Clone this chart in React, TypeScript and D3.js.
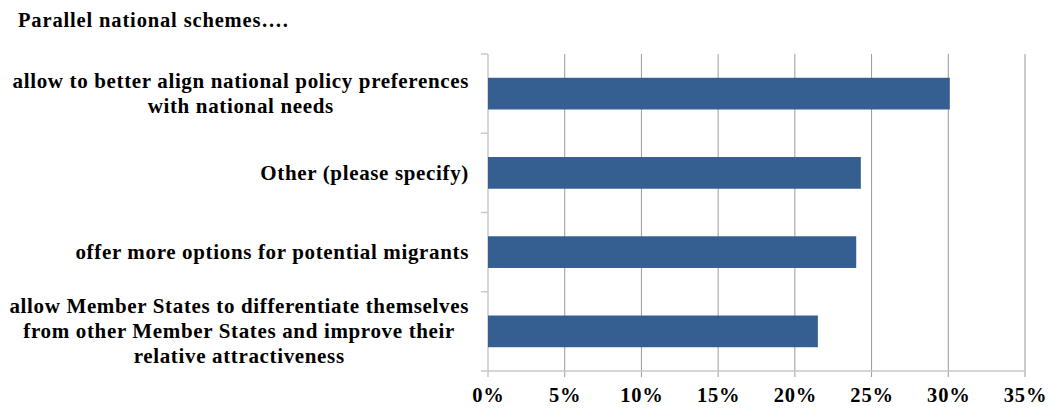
import React, { useEffect, useRef } from "react";
import * as d3 from "d3";

const title = "Parallel national schemes….";
const categories = [
  ["allow to better align national policy preferences", "with national needs"],
  ["Other (please specify)"],
  ["offer more options for potential migrants"],
  [
    "allow Member States to differentiate themselves",
    "from other Member States and improve their",
    "relative attractiveness",
  ],
];
const values = [0.301, 0.243, 0.24, 0.215];
const ticks = [0, 0.05, 0.1, 0.15, 0.2, 0.25, 0.3, 0.35];

const W = 1050;
const H = 409;
const m = { left: 488, right: 25, top: 54, bottom: 38 };
const font = "'Liberation Serif', 'Times New Roman', serif";

const App = () => {
  const ref = useRef<SVGSVGElement>(null);

  useEffect(() => {
    const svg = d3.select(ref.current);
    svg.selectAll("*").remove();

    const x = d3.scaleLinear().domain([0, 0.35]).range([m.left, W - m.right]);
    const y = d3
      .scaleBand()
      .domain(categories.map((_, i) => String(i)))
      .range([m.top, H - m.bottom])
      .paddingInner(0.6)
      .paddingOuter(0.3);
    const band = (H - m.bottom - m.top) / categories.length;

    svg
      .append("text")
      .attr("x", 18)
      .attr("y", 27)
      .attr("font-family", font)
      .attr("font-weight", "bold")
      .attr("font-size", 20.5)
      .attr("letter-spacing", 0.85)
      .text(title);

    // gridlines
    svg
      .append("g")
      .selectAll("line")
      .data(ticks.slice(1))
      .join("line")
      .attr("x1", (d) => x(d))
      .attr("x2", (d) => x(d))
      .attr("y1", m.top)
      .attr("y2", H - m.bottom + 6)
      .attr("stroke", "#9a9a9a")
      .attr("stroke-width", 1);

    // axis lines + ticks
    svg
      .append("line")
      .attr("x1", m.left)
      .attr("x2", x(0.35))
      .attr("y1", H - m.bottom)
      .attr("y2", H - m.bottom)
      .attr("stroke", "#c8c8c8")
      .attr("stroke-width", 1.5);
    svg
      .append("line")
      .attr("x1", m.left)
      .attr("x2", m.left)
      .attr("y1", m.top)
      .attr("y2", H - m.bottom + 6)
      .attr("stroke", "#c8c8c8")
      .attr("stroke-width", 1.5);
    svg
      .append("g")
      .selectAll("line")
      .data(d3.range(categories.length + 1))
      .join("line")
      .attr("x1", m.left - 7)
      .attr("x2", m.left)
      .attr("y1", (i) => m.top + i * band)
      .attr("y2", (i) => m.top + i * band)
      .attr("stroke", "#c8c8c8")
      .attr("stroke-width", 1.5);

    svg
      .append("g")
      .selectAll("text")
      .data(ticks)
      .join("text")
      .attr("x", (d) => x(d) + 0.5)
      .attr("y", H - 7)
      .attr("text-anchor", "middle")
      .attr("font-family", font)
      .attr("font-weight", "bold")
      .attr("font-size", 20.5)
      .attr("letter-spacing", 0.8)
      .text((d) => d3.format(".0%")(d));

    // bars
    svg
      .append("g")
      .selectAll("rect")
      .data(values)
      .join("rect")
      .attr("x", x(0))
      .attr("y", (_, i) => y(String(i))!)
      .attr("width", (d) => x(d) - x(0))
      .attr("height", y.bandwidth())
      .attr("fill", "#365f91");

    // category labels: block right-aligned, lines centered within block
    const lh = 25;
    categories.forEach((lines, i) => {
      const cy = m.top + (i + 0.5) * band;
      const g = svg
        .append("g")
        .attr("font-family", font)
        .attr("font-weight", "bold")
        .attr("font-size", 21)
        .attr("letter-spacing", 0.65);
      const texts = g
        .selectAll("text")
        .data(lines)
        .join("text")
        .attr("y", (_, j) => cy + (j - (lines.length - 1) / 2) * lh + 7)
        .text((d) => d);
      let maxW = 0;
      texts.each(function () {
        maxW = Math.max(maxW, (this as SVGTextElement).getComputedTextLength());
      });
      texts.attr("x", 469 - maxW / 2).attr("text-anchor", "middle");
    });
  }, []);

  return (
    <svg
      ref={ref}
      width={W}
      height={H}
      style={{ position: "absolute", left: 0, top: 0, background: "#fff" }}
    />
  );
};

export default App;
